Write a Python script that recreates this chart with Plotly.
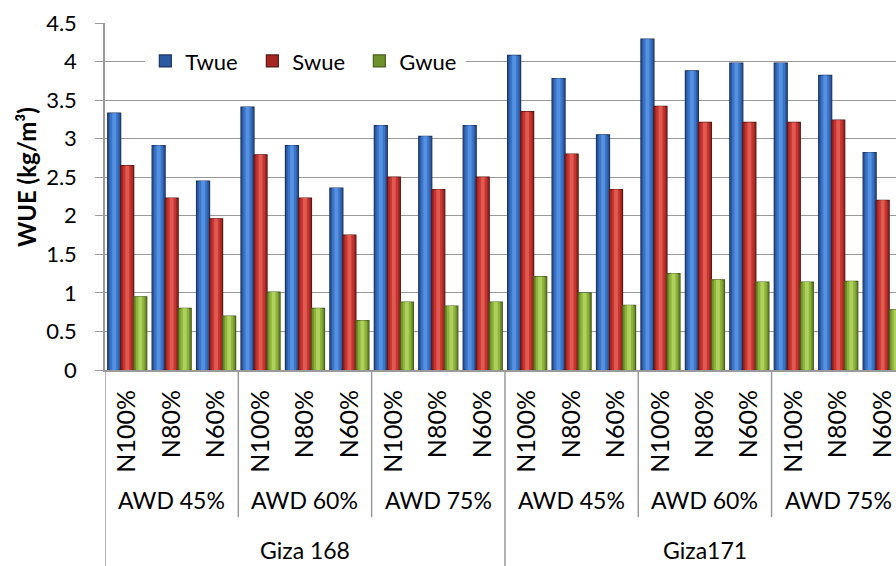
import plotly.graph_objects as go

# Nitrogen level (innermost category), irrigation regime, cultivar
n_levels = ["N100%", "N80%", "N60%"] * 6
awd_labels = ["AWD 45%", "AWD 60%", "AWD 75%", "AWD 45%", "AWD 60%", "AWD 75%"]
cultivars = ["Giza 168", "Giza171"]

# Water use efficiency (kg/m3)
twue = [3.33, 2.91, 2.45, 3.41, 2.91, 2.36, 3.17, 3.03, 3.17,
        4.08, 3.78, 3.05, 4.29, 3.88, 3.98, 3.98, 3.82, 2.82]
swue = [2.65, 2.23, 1.96, 2.79, 2.23, 1.75, 2.50, 2.34, 2.50,
        3.35, 2.80, 2.34, 3.42, 3.21, 3.21, 3.21, 3.24, 2.20]
gwue = [0.95, 0.80, 0.70, 1.01, 0.80, 0.64, 0.88, 0.83, 0.88,
        1.21, 1.00, 0.84, 1.25, 1.17, 1.14, 1.14, 1.15, 0.78]

FONT = "Lato"
GRID = "#9a9a9a"

x = list(range(len(n_levels)))
bar_w = 0.2933
offsets = [-0.44, -0.1467, 0.1467]

series = [
    ("Twue", twue, ["#2b5aa3", "#3a74c6", "#5591e0"], "#1f3561"),
    ("Swue", swue, ["#a52622", "#c8342e", "#de5a52"], "#5a1a17"),
    ("Gwue", gwue, ["#6f9129", "#8db33a", "#aed15e"], "#4a5e22"),
]

fig = go.Figure()
for (name, vals, shades, edge), off in zip(series, offsets):
    # base bar with dark outline
    fig.add_trace(go.Bar(
        x=x, y=vals, name=name, width=bar_w, offset=off,
        marker=dict(color=shades[0], line=dict(color=edge, width=1.2)),
        showlegend=True,
    ))
    # lighter bands towards the middle for a rounded look
    for frac, col in ((0.66, shades[1]), (0.3, shades[2])):
        w = bar_w * frac
        fig.add_trace(go.Bar(
            x=x, y=vals, width=w, offset=off + (bar_w - w) / 2,
            marker=dict(color=col, line=dict(width=0)),
            showlegend=False, hoverinfo="skip",
        ))

# x axis separators between irrigation regimes and cultivars
shapes = []
for b in [2.5, 5.5, 11.5, 14.5]:
    shapes.append(dict(type="line", xref="x", yref="paper", x0=b, x1=b,
                       y0=0, y1=-0.424, line=dict(color=GRID, width=1.5)))
for b in [-0.5, 8.5]:
    shapes.append(dict(type="line", xref="x", yref="paper", x0=b, x1=b,
                       y0=0, y1=-0.6, line=dict(color=GRID, width=1.5)))

annotations = []
for i, lab in enumerate(awd_labels):
    annotations.append(dict(x=3 * i + 1, xref="x", y=-0.376, yref="paper",
                            yanchor="middle", xanchor="center",
                            text=lab, showarrow=False,
                            font=dict(family=FONT, size=23, color="#000")))
for i, lab in enumerate(cultivars):
    annotations.append(dict(x=9 * i + 4, xref="x", y=-0.518, yref="paper",
                            yanchor="middle", xanchor="center",
                            text=lab, showarrow=False,
                            font=dict(family=FONT, size=23, color="#000")))
annotations.append(dict(x=0, xref="paper", xshift=-79, xanchor="center",
                        y=0.556, yref="paper", yanchor="middle",
                        text="<b>WUE (kg/m³)</b>", textangle=-90, showarrow=False,
                        font=dict(family=FONT, size=24, color="#000")))

fig.update_layout(
    width=896, height=566,
    margin=dict(l=105, r=0, t=23, b=196),
    paper_bgcolor="white", plot_bgcolor="white",
    barmode="overlay",
    font=dict(family=FONT, color="#000"),
    shapes=shapes, annotations=annotations,
    legend=dict(orientation="h", x=0.051, y=0.89, xanchor="left", yanchor="middle",
                bgcolor="white", font=dict(family=FONT, size=22),
                itemwidth=30, entrywidth=62, tracegroupgap=0),
    xaxis=dict(range=[-0.5, 17.3], tickvals=x, ticktext=n_levels, tickangle=-90,
               tickfont=dict(family=FONT, size=25), showgrid=False, zeroline=False,
               showline=True, linecolor=GRID, linewidth=2, ticks="",
               ticklabelstandoff=8),
    yaxis=dict(range=[0, 4.5], dtick=0.5, tick0=0, showgrid=True, gridcolor=GRID,
               gridwidth=1, zeroline=False, showline=True, linecolor=GRID, linewidth=1.5,
               ticks="outside", ticklen=8, tickcolor=GRID,
               tickfont=dict(family=FONT, size=22), ticklabelstandoff=14),
)

fig.write_html("out.html")
